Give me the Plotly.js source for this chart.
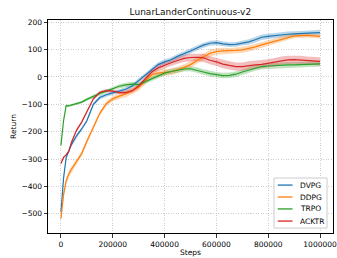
<!DOCTYPE html>
<html>
<head>
<meta charset="utf-8">
<script src="https://cdn.plot.ly/plotly-3.0.1.min.js"></script>
<style>html,body{margin:0;padding:0;background:#fff;}#chart{width:337px;height:258px;}</style>
</head>
<body>
<div id="chart"></div>
<script>
const steps = [0, 10000, 20000, 30000, 40000, 60000, 80000, 100000, 125000, 150000, 175000, 200000, 225000, 250000, 275000, 300000, 325000, 350000, 375000, 400000, 425000, 450000, 475000, 500000, 525000, 550000, 575000, 600000, 625000, 650000, 675000, 700000, 725000, 750000, 775000, 800000, 825000, 850000, 875000, 900000, 925000, 950000, 975000, 1000000];

const dvpg = [-494, -370, -295, -268, -248, -215, -190, -160, -100, -75, -65, -58, -52, -45, -33, -13, 8, 28, 45, 55, 63, 75, 84, 95, 106, 116, 123, 125, 121, 118, 119, 124, 128, 136, 145, 148, 151, 154, 156, 157, 159, 160, 161, 162];
const dvpgBand = [4, 6, 6, 6, 6, 6, 6, 6, 7, 7, 7, 7, 7, 7, 8, 8, 8, 9, 9, 9, 9, 9, 9, 9, 9, 9, 9, 9, 9, 9, 9, 9, 10, 10, 10, 10, 10, 10, 10, 10, 10, 10, 10, 10];

const ddpg = [-518, -430, -380, -355, -338, -310, -280, -235, -185, -133, -98, -80, -70, -62, -51, -38, -15, 8, 14, 16, 19, 26, 34, 45, 60, 74, 86, 93, 95, 95, 97, 99, 104, 110, 117, 124, 130, 138, 145, 150, 151, 152, 150, 148];
const ddpgBand = [6, 12, 12, 12, 11, 10, 9, 8, 8, 8, 9, 10, 11, 12, 12, 12, 12, 12, 12, 12, 12, 12, 12, 12, 12, 12, 12, 12, 12, 11, 11, 11, 11, 11, 11, 11, 10, 10, 10, 9, 9, 8, 8, 8];

const trpo = [-250, -160, -105, -106, -103, -98, -92, -82, -70, -60, -52, -42, -34, -29, -26, -28, -18, -8, 4, 14, 20, 25, 29, 30, 25, 18, 12, 8, 5, 6, 10, 18, 25, 33, 38, 40, 42, 43, 44, 44, 45, 46, 47, 48];
const trpoBand = [3, 4, 4, 4, 4, 5, 5, 5, 6, 6, 6, 7, 7, 8, 8, 8, 9, 9, 9, 9, 9, 9, 9, 9, 10, 10, 10, 10, 10, 10, 10, 10, 10, 10, 10, 10, 10, 10, 10, 10, 10, 10, 10, 10];

const acktr = [-316, -294, -285, -272, -240, -195, -165, -127, -80, -56, -50, -52, -57, -57, -50, -33, -8, 18, 33, 43, 52, 60, 68, 71, 72, 70, 61, 55, 47, 42, 38, 38, 42, 44, 46, 50, 54, 60, 62, 63, 62, 60, 59, 57];
const acktrBand = [3, 4, 4, 4, 5, 5, 5, 5, 5, 5, 6, 6, 6, 7, 8, 9, 10, 10, 10, 11, 12, 12, 13, 14, 14, 15, 15, 15, 15, 15, 15, 15, 15, 15, 15, 15, 15, 15, 15, 15, 15, 15, 15, 15];

const names = ['DVPG', 'DDPG', 'TRPO', 'ACKTR'];
const colors = ['#1f77b4', '#ff7f0e', '#2ca02c', '#d62728'];
const bandColors = ['rgba(31,119,180,0.3)', 'rgba(255,127,14,0.3)', 'rgba(44,160,44,0.3)', 'rgba(214,39,40,0.3)'];
const series = [dvpg, ddpg, trpo, acktr];
const bands = [dvpgBand, ddpgBand, trpoBand, acktrBand];

const traces = [];
series.forEach((ys, i) => {
  const upper = ys.map((v, k) => v + bands[i][k]);
  const lower = ys.map((v, k) => v - bands[i][k]);
  traces.push({
    x: steps.concat(steps.slice().reverse()),
    y: upper.concat(lower.slice().reverse()),
    type: 'scatter', mode: 'lines', fill: 'toself',
    fillcolor: bandColors[i], line: {width: 0, color: 'rgba(0,0,0,0)'},
    hoverinfo: 'skip', showlegend: false
  });
});
series.forEach((ys, i) => {
  traces.push({
    x: steps, y: ys, type: 'scatter', mode: 'lines', name: names[i],
    line: {color: colors[i], width: 1.2}, showlegend: false
  });
});

const font = {family: 'DejaVu Sans', size: 7.5, color: '#000'};

// compact legend (matplotlib style) built from names/colors
const shapes = [{
  type: 'rect', xref: 'paper', yref: 'paper', x0: 0.793, x1: 0.979, y0: 0.023, y1: 0.258,
  fillcolor: 'rgba(255,255,255,0.8)', line: {color: '#cccccc', width: 1}, layer: 'above'
}];
const annotations = [];
const legendY = [0.225, 0.169, 0.113, 0.056];
names.forEach((n, i) => {
  shapes.push({type: 'line', xref: 'paper', yref: 'paper', x0: 0.806, x1: 0.858, y0: legendY[i], y1: legendY[i],
    line: {color: colors[i], width: 1.3}, layer: 'above'});
  annotations.push({xref: 'paper', yref: 'paper', x: 0.876, y: legendY[i], xanchor: 'left', yanchor: 'middle',
    text: n, showarrow: false, font: font});
});

const layout = {
  width: 337, height: 258,
  margin: {l: 48, r: 4, t: 20, b: 25, pad: 0},
  paper_bgcolor: '#fff', plot_bgcolor: '#fff',
  font: font,
  title: {text: 'LunarLanderContinuous-v2', font: {family: 'DejaVu Sans', size: 9, color: '#111'}, x: 0.565, xanchor: 'center', y: 0.955, yanchor: 'middle'},
  xaxis: {
    range: [-50000, 1050000], tickvals: [0, 200000, 400000, 600000, 800000, 1000000], tickformat: 'd',
    showline: true, mirror: true, linecolor: '#000', linewidth: 1,
    ticks: 'outside', ticklen: 3.5, tickwidth: 0.8, tickcolor: '#000',
    showgrid: true, gridcolor: '#c0c0c0', griddash: '1px,1.5px', gridwidth: 0.8, zeroline: false,
    title: {text: 'Steps', font: font, standoff: 2}, tickfont: font
  },
  yaxis: {
    range: [-570, 208], tickvals: [-500, -400, -300, -200, -100, 0, 100, 200],
    showline: true, mirror: true, linecolor: '#000', linewidth: 1,
    ticks: 'outside', ticklen: 3.5, tickwidth: 0.8, tickcolor: '#000',
    showgrid: true, gridcolor: '#c0c0c0', griddash: '1px,1.5px', gridwidth: 0.8, zeroline: false,
    title: {text: 'Return', font: font, standoff: 3}, tickfont: font
  },
  shapes: shapes,
  annotations: annotations,
  showlegend: false
};
Plotly.newPlot('chart', traces, layout, {staticPlot: true, displayModeBar: false});
</script>
</body>
</html>
